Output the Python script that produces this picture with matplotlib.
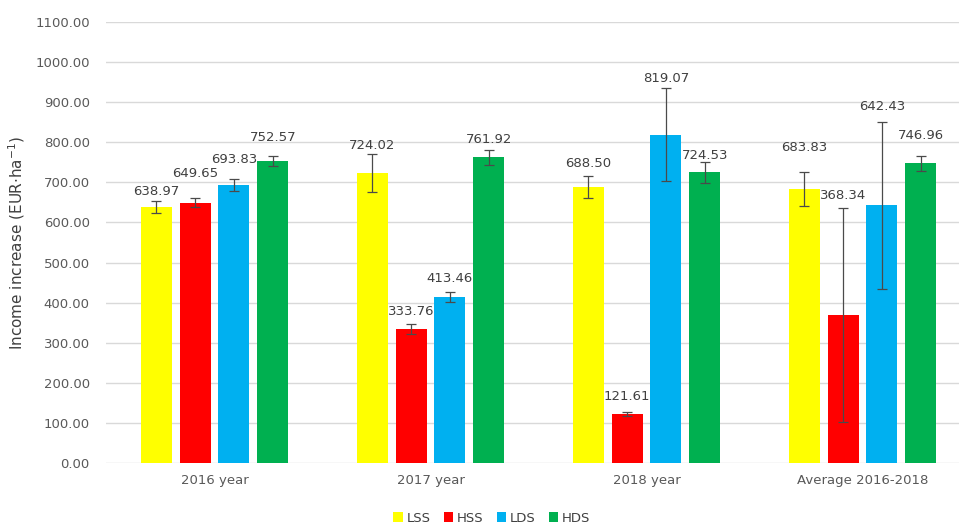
import numpy as np
import matplotlib
matplotlib.use("Agg")
import matplotlib.pyplot as plt
from matplotlib.patches import Patch

# данные
groups = ["2016 year", "2017 year", "2018 year", "Average 2016-2018"]
series = ["LSS", "HSS", "LDS", "HDS"]
colors = ["#FFFF00", "#FF0000", "#00B0F0", "#00B050"]

values = {
    "LSS": [638.97, 724.02, 688.50, 683.83],
    "HSS": [649.65, 333.76, 121.61, 368.34],
    "LDS": [693.83, 413.46, 819.07, 642.43],
    "HDS": [752.57, 761.92, 724.53, 746.96],
}
errors = {
    "LSS": [15, 47, 27, 43],
    "HSS": [12, 12, 5, 267],
    "LDS": [15, 13, 117, 208],
    "HDS": [12, 18, 27, 19],
}
# высота подписей (в единицах оси y)
label_y = {
    "LSS": [676, 793, 748, 786],
    "HSS": [723, 379, 165, 668],
    "LDS": [758, 459, 960, 888],
    "HDS": [811, 806, 768, 818],
}

fig = plt.figure(figsize=(9.59, 5.27), dpi=100)
ax = fig.add_axes([0.111, 0.1214, 0.901, 0.837])

x = np.arange(len(groups))
width = 0.1435
step = 0.18
offsets = (np.arange(len(series)) - 1.5) * step

for i, s in enumerate(series):
    xs = x + offsets[i]
    ax.bar(xs, values[s], width, color=colors[i], zorder=2)
    ax.errorbar(xs, values[s], yerr=errors[s], fmt="none", ecolor="#4a4a4a",
                elinewidth=0.9, capsize=3.5, capthick=0.9, zorder=3)
    for xi, v, ly in zip(xs, values[s], label_y[s]):
        ax.text(xi, ly, f"{v:.2f}", ha="center", va="center",
                fontsize=9.5, color="#404040", zorder=4)

ax.set_xlim(-0.5, len(groups) - 0.5)
ax.set_ylim(0, 1100)
ax.set_yticks(np.arange(0, 1101, 100))
ax.set_yticklabels([f"{t:.2f}" for t in np.arange(0, 1101, 100)])
ax.set_xticks(x)
ax.set_xticklabels(groups)
ax.tick_params(axis="both", length=0, labelsize=9.5, colors="#595959")
ax.tick_params(axis="y", pad=12)
ax.tick_params(axis="x", pad=8)
ax.grid(axis="y", color="#D9D9D9", linewidth=1, zorder=0)
for sp in ax.spines.values():
    sp.set_visible(False)

ax.set_ylabel(r"Income increase (EUR$\cdot$ha$^{-1}$)", fontsize=11,
              color="#404040", labelpad=6)

handles = [Patch(facecolor=c, label=s) for c, s in zip(colors, series)]
fig.legend(handles=handles, loc="center", bbox_to_anchor=(0.513, 0.017),
           ncol=4, frameon=False, fontsize=9.5, handlelength=0.7,
           handleheight=0.7, handletextpad=0.3, columnspacing=1.0,
           labelcolor="#404040")

fig.savefig("out.png", dpi=100)
